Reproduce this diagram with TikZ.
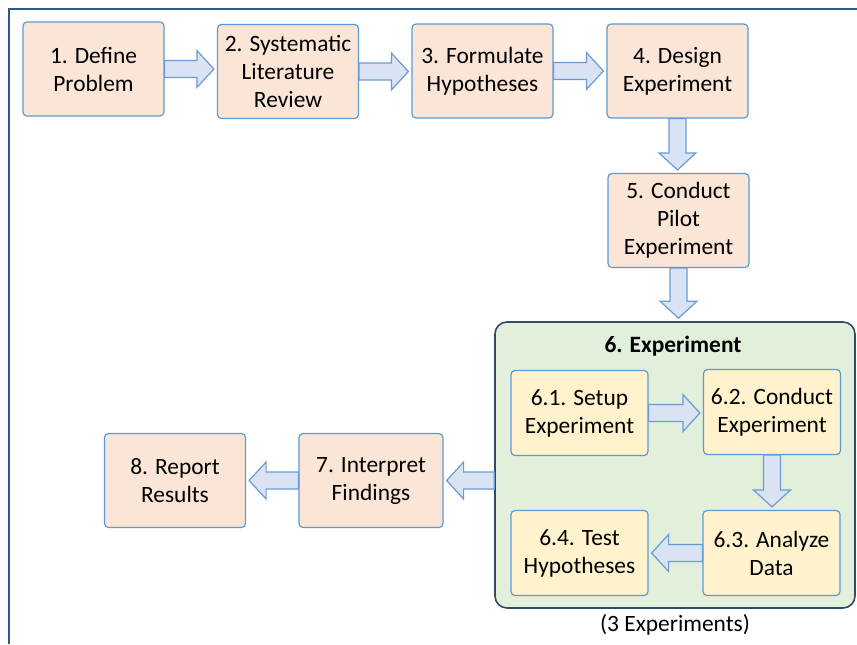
\documentclass[tikz,border=0pt]{standalone}
\usepackage{fontspec}
\setmainfont{Carlito}
\usetikzlibrary{calc}
\definecolor{peach}{HTML}{FBE5D6}
\definecolor{cream}{HTML}{FFF2CC}
\definecolor{sage}{HTML}{E2EFDA}
\definecolor{boxline}{HTML}{5B9BD5}
\definecolor{groupline}{HTML}{2F4B68}
\definecolor{arrfill}{HTML}{DAE3F3}
\definecolor{arrline}{HTML}{6A9BD3}
\definecolor{frameline}{HTML}{2B5A88}
\tikzset{
    stage/.style={draw=boxline, fill=peach, rounded corners=2pt, line width=0.6pt,
        align=center, inner sep=0pt, minimum width=70.5pt, minimum height=47pt,
        font=\fontsize{11.7}{14}\selectfont},
    substage/.style={stage, fill=cream, minimum width=68.5pt, minimum height=42.5pt},
    stagegroup/.style={draw=groupline, fill=sage, rounded corners=6pt, line width=0.8pt,
        minimum width=180pt, minimum height=143pt},
    flowarr/.style={draw=arrline, fill=arrfill, line width=0.6pt, line join=miter}
}
% block arrow from #1 to #2
\newcommand{\flowarrow}[2]{%
    \draw[flowarr] let \p1=(#1), \p2=(#2), \n1={atan2(\y2-\y1,\x2-\x1)},
        \n2={veclen(\x2-\x1,\y2-\y1)-1.5pt}, \n3={\n2-8.5pt} in
        {[shift={(\p1)}, rotate=\n1]
        (0pt,-4.25pt) -- (\n3,-4.25pt) -- (\n3,-9.25pt) -- (\n2,0pt)
        -- (\n3,9.25pt) -- (\n3,4.25pt) -- (0pt,4.25pt) -- cycle};
}
\begin{document}
\begin{tikzpicture}[x=0.5pt, y=-0.5pt]
        \useasboundingbox (0,0) rectangle (857,644);
        \draw[frameline, line width=1pt] (9,644) -- (9,9) -- (857,9);
        % main stages
        \node[stage] (b1) at (93.5,69) {1. Define\\Problem};
        \node[stage] (b2) at (288,71.5) {2. Systematic\\Literature\\Review};
        \node[stage] (b3) at (482.5,71) {3. Formulate\\Hypotheses};
        \node[stage] (b4) at (677.5,71) {4. Design\\Experiment};
        \node[stage] (b5) at (678.5,220.5) {5. Conduct\\Pilot\\Experiment};
        \node[stage, minimum width=72pt] (b7) at (371,480.5) {7. Interpret\\Findings};
        \node[stage] (b8) at (175,480.5) {8. Report\\Results};
        % experiment group
        \node[stagegroup] (grp) at (675,465) {};
        \node[font=\fontsize{11.7}{14}\selectfont\bfseries] (grptitle) at (673,346) {6. Experiment};
        \node[substage] (b61) at (579.5,413) {6.1. Setup\\Experiment};
        \node[substage] (b62) at (772,412) {6.2. Conduct\\Experiment};
        \node[substage] (b63) at (771.5,553) {6.3. Analyze\\Data};
        \node[substage] (b64) at (579.5,553) {6.4. Test\\Hypotheses};
        \node[font=\fontsize{11.7}{14}\selectfont] (grpnote) at (675,625) {(3 Experiments)};
        % arrows
        \flowarrow{b1.east}{b1.east -| b2.west}
        \flowarrow{b2.east}{b2.east -| b3.west}
        \flowarrow{b3.east}{b3.east -| b4.west}
        \flowarrow{b4.south}{b4.south |- b5.north}
        \flowarrow{b5.south}{b5.south |- grp.north}
        \flowarrow{b61.east}{b61.east -| b62.west}
        \flowarrow{b62.south}{b62.south |- b63.north}
        \flowarrow{b63.west}{b63.west -| b64.east}
        \flowarrow{grp.west |- b7.east}{b7.east}
        \flowarrow{b7.west}{b7.west -| b8.east}
\end{tikzpicture}
\end{document}
